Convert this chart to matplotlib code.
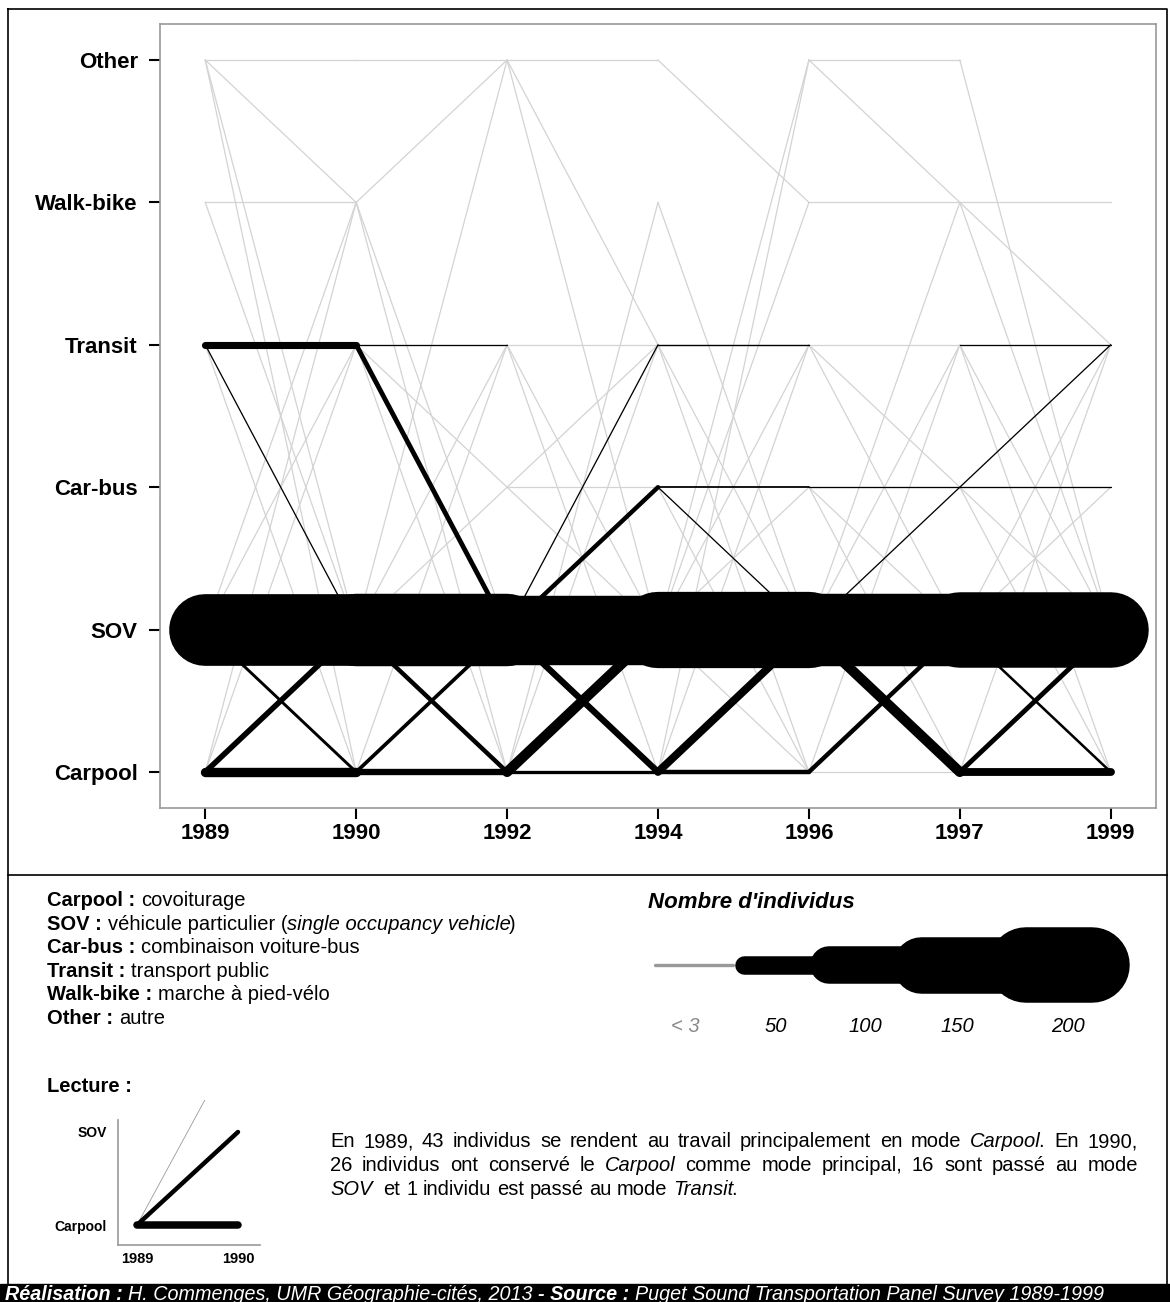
import numpy as np
import matplotlib.pyplot as plt
from matplotlib.patches import Rectangle

plt.rcParams['font.family'] = ['Liberation Sans', 'DejaVu Sans']

# ----------------
#  DATA
# ----------------

years = ["1989", "1990", "1992", "1994", "1996", "1997", "1999"]
modes = ["Carpool", "SOV", "Car-bus", "Transit", "Walk-bike", "Other"]

# (mode origine, mode destination, nombre d'individus)
flows_1989_1990 = [
    ("Other", "Other", 1), ("Other", "Walk-bike", 1), ("Other", "SOV", 1), ("Other", "Carpool", 1),
    ("Walk-bike", "Walk-bike", 1), ("Walk-bike", "SOV", 1), ("SOV", "Walk-bike", 1),
    ("SOV", "Transit", 2), ("Carpool", "Transit", 1), ("Carpool", "Walk-bike", 1),
    ("Transit", "Carpool", 1),
    ("Transit", "Transit", 20), ("Transit", "SOV", 4), ("SOV", "SOV", 190),
    ("SOV", "Carpool", 9), ("Carpool", "SOV", 16), ("Carpool", "Carpool", 26),
]
flows_1990_1992 = [
    ("Other", "Other", 1), ("Walk-bike", "Other", 1), ("SOV", "Other", 1),
    ("Walk-bike", "SOV", 1), ("Walk-bike", "Carpool", 1), ("Transit", "Car-bus", 1),
    ("SOV", "Transit", 2), ("Carpool", "Transit", 1), ("SOV", "Car-bus", 2),
    ("Transit", "Carpool", 1),
    ("Transit", "Transit", 4), ("Transit", "SOV", 14), ("SOV", "SOV", 192),
    ("SOV", "Carpool", 13), ("Carpool", "SOV", 11), ("Carpool", "Carpool", 18),
]
flows_1992_1994 = [
    ("Other", "Other", 1), ("Other", "Transit", 1), ("Other", "SOV", 1),
    ("Carpool", "Walk-bike", 1), ("Transit", "Transit", 1), ("Transit", "SOV", 1),
    ("Transit", "Carpool", 1), ("Car-bus", "Car-bus", 1), ("Car-bus", "Transit", 1),
    ("Car-bus", "SOV", 1), ("Carpool", "Transit", 1),
    ("SOV", "Car-bus", 13), ("SOV", "Transit", 3), ("SOV", "SOV", 184),
    ("SOV", "Carpool", 18), ("Carpool", "SOV", 28), ("Carpool", "Carpool", 10),
]
flows_1994_1996 = [
    ("Other", "Walk-bike", 1), ("Walk-bike", "SOV", 1), ("SOV", "Other", 1),
    ("Carpool", "Other", 1), ("SOV", "Walk-bike", 1), ("Transit", "SOV", 1),
    ("Transit", "Carpool", 1), ("Car-bus", "Carpool", 1), ("SOV", "Transit", 2),
    ("SOV", "Car-bus", 2), ("Carpool", "Transit", 1), ("SOV", "Carpool", 2),
    ("Transit", "Transit", 5), ("Car-bus", "Car-bus", 6), ("Car-bus", "SOV", 3),
    ("SOV", "SOV", 202), ("Carpool", "SOV", 22), ("Carpool", "Carpool", 13),
]
flows_1996_1997 = [
    ("Other", "Other", 1), ("Other", "Walk-bike", 1), ("Walk-bike", "Walk-bike", 1),
    ("SOV", "Walk-bike", 1), ("Transit", "Transit", 1), ("Transit", "Car-bus", 1),
    ("Transit", "SOV", 1), ("Car-bus", "SOV", 2), ("Car-bus", "Carpool", 1),
    ("SOV", "Transit", 2), ("Carpool", "Transit", 1), ("Carpool", "Carpool", 2),
    ("Car-bus", "Car-bus", 4), ("SOV", "Car-bus", 3), ("SOV", "SOV", 192),
    ("SOV", "Carpool", 28), ("Carpool", "SOV", 13),
]
flows_1997_1999 = [
    ("Other", "SOV", 1), ("Walk-bike", "Walk-bike", 1), ("Walk-bike", "Transit", 1),
    ("Walk-bike", "SOV", 1), ("Transit", "SOV", 1), ("Transit", "Carpool", 1),
    ("Car-bus", "SOV", 2), ("Car-bus", "Carpool", 1), ("SOV", "Transit", 2),
    ("SOV", "Car-bus", 2), ("Carpool", "Transit", 1),
    ("Transit", "Transit", 3), ("Car-bus", "Transit", 3), ("Car-bus", "Car-bus", 3),
    ("SOV", "SOV", 200), ("SOV", "Carpool", 8), ("Carpool", "SOV", 14),
    ("Carpool", "Carpool", 22),
]
periods = [flows_1989_1990, flows_1990_1992, flows_1992_1994,
           flows_1994_1996, flows_1996_1997, flows_1997_1999]

legend_values = [50, 100, 150, 200]
legend_labels = ["< 3", "50", "100", "150", "200"]

lecture_years = ["1989", "1990"]
lecture_modes = ["Carpool", "SOV", "Transit"]
lecture_flows = [("Carpool", "Transit", 1), ("Carpool", "SOV", 16), ("Carpool", "Carpool", 26)]

glossary = [
    [("Carpool :", "bold", "normal"), (" covoiturage", "normal", "normal")],
    [("SOV :", "bold", "normal"), (" véhicule particulier (", "normal", "normal"),
     ("single occupancy vehicle", "normal", "italic"), (")", "normal", "normal")],
    [("Car-bus :", "bold", "normal"), (" combinaison voiture-bus", "normal", "normal")],
    [("Transit :", "bold", "normal"), (" transport public", "normal", "normal")],
    [("Walk-bike :", "bold", "normal"), (" marche à pied-vélo", "normal", "normal")],
    [("Other :", "bold", "normal"), (" autre", "normal", "normal")],
]

lecture_text = [
    "En 1989, 43 individus se rendent au travail principalement en mode *Carpool*. En 1990,",
    "26 individus ont conservé le *Carpool* comme mode principal, 16 sont passé au mode",
    "*SOV*  et 1 individu est passé au mode *Transit*.",
]

footer = [("Réalisation :", "bold", "italic"),
          (" H. Commenges, UMR Géographie-cités, 2013 ", "normal", "italic"),
          ("- Source :", "bold", "italic"),
          (" Puget Sound Transportation Panel Survey 1989-1999", "normal", "italic")]


def width_pt(n):
    # largeur du trait proportionnelle au nombre d'individus (px -> pt)
    return max(0.38 * n - 0.5, 1.3) * 0.72


GREY = "#d3d3d3"

# ----------------
#  FIGURE
# ----------------

W, H = 1170, 1302
fig = plt.figure(figsize=(W / 100, H / 100), dpi=100)
ov = fig.add_axes([0, 0, 1, 1], zorder=0)
ov.set_xlim(0, W)
ov.set_ylim(H, 0)
ov.axis("off")
rend = fig.canvas.get_renderer()

# cadre general
ov.plot([8, 1167, 1167, 8, 8], [9, 9, 1290, 1290, 9], color="black", lw=1.2)
ov.plot([8, 1167], [875, 875], color="black", lw=1.2)
ov.add_patch(Rectangle((0, 1284), W, 20, color="black"))

# graphique principal
ax = fig.add_axes([160 / W, 1 - 808 / H, 996 / W, 784 / H], zorder=1)
ymode = {m: i for i, m in enumerate(modes)}

for i, fl in enumerate(periods):
    for a, b, n in fl:
        if n < 3:
            ax.plot([i, i + 1], [ymode[a], ymode[b]], color=GREY, lw=0.9, zorder=1)
for i, fl in enumerate(periods):
    for a, b, n in sorted(fl, key=lambda f: f[2]):
        if n >= 3:
            ax.plot([i, i + 1], [ymode[a], ymode[b]], color="black", lw=width_pt(n),
                    solid_capstyle="round", zorder=2 + n / 1000)

ax.set_xlim(-0.3, 6.3)
ax.set_ylim(-0.253, 5.253)
ax.set_xticks(range(len(years)))
ax.set_xticklabels(years, fontsize=16, fontweight="bold")
ax.set_yticks(range(len(modes)))
ax.set_yticklabels(modes, fontsize=16, fontweight="bold")
ax.tick_params(axis="both", direction="out", length=8, width=1.5, color="black")
ax.tick_params(axis="y", pad=8)
ax.tick_params(axis="x", pad=3)
for s in ax.spines.values():
    s.set_color("#999999")
    s.set_linewidth(1.2)


# ----------------
#  TEXTES
# ----------------

def measure(s, size, weight="normal", style="normal"):
    t = ov.text(0, 0, s, fontsize=size, fontweight=weight, fontstyle=style)
    w = t.get_window_extent(renderer=rend).width
    t.remove()
    return w


def space(size, weight="normal", style="normal"):
    return measure("x x", size, weight, style) - measure("xx", size, weight, style)


def rich(x, y, parts, size, color="black"):
    for k, (s, weight, style) in enumerate(parts):
        sp = space(size, weight, style)
        core = s.strip(" ")
        x += (len(s) - len(s.lstrip(" "))) * sp
        if core:
            ov.text(x, y, core, fontsize=size, fontweight=weight, fontstyle=style,
                    color=color, ha="left", va="baseline")
            x += measure(core, size, weight, style)
            # l'italique deborde a droite : on rapproche le morceau suivant
            if style == "italic" and k + 1 < len(parts) and parts[k + 1][2] != "italic":
                x -= 2
        x += (len(s) - len(s.rstrip(" "))) * sp
    return x


def word_parts(word):
    bits = word.split("*")
    return [(b, "normal", "italic" if k % 2 else "normal") for k, b in enumerate(bits) if b]


def para_line(x0, x1, y, line, size, justify):
    words = [word_parts(w) for w in line.split(" ")]
    widths = [sum(measure(p[0], size, p[1], p[2]) for p in w) for w in words]
    if justify:
        gap = (x1 - x0 - sum(widths)) / (len(words) - 1)
    else:
        gap = space(size)
    x = x0
    for w, wd in zip(words, widths):
        rich(x, y, w, size)
        x += wd + gap


for k, parts in enumerate(glossary):
    rich(47, 906 + k * 23.6, parts, 14.5)

ov.text(47, 1086, "Lecture :", fontsize=14.5, fontweight="bold", va="center", ha="left")

for k, line in enumerate(lecture_text):
    para_line(330, 1138, 1147 + k * 24, line, 14.5, justify=(k < len(lecture_text) - 1))

rich(5, 1300, footer, 14.2, color="white")

# legende
ov.text(648, 902, "Nombre d'individus", fontsize=16, fontweight="bold", fontstyle="italic",
        va="center", ha="left")
ov.plot([655, 733], [965, 965], color="#999999", lw=2.4, solid_capstyle="round")
seg_start = [744, 829, 921, 1026]
seg_end = [815, 910, 1010, 1092]
for v, x0, x1 in zip(legend_values, seg_start, seg_end):
    ov.plot([x0, x1], [965, 965], color="black", lw=width_pt(v), solid_capstyle="round")
label_x = [685, 776, 865, 957, 1068]
for lab, x in zip(legend_labels, label_x):
    ov.text(x, 1026, lab, fontsize=14.5, fontstyle="italic", ha="center", va="center",
            color="#888888" if lab.startswith("<") else "black")

# mini graphique de lecture
mini = fig.add_axes([118 / W, 1 - 1245 / H, 142 / W, 145 / H], zorder=1)
mini.patch.set_alpha(0)
lmode = {m: i for i, m in enumerate(lecture_modes)}
for a, b, n in lecture_flows:
    if n < 3:
        mini.plot([0, 1], [lmode[a], lmode[b]], color="#999999", lw=0.6)
    else:
        mini.plot([0, 1], [lmode[a], lmode[b]], color="black", lw=width_pt(n) * 0.8,
                  solid_capstyle="round")
mini.set_xlim(-0.188, 1.218)
mini.set_ylim(-0.215, 1.344)
for side in ["top", "right"]:
    mini.spines[side].set_visible(False)
for side in ["left", "bottom"]:
    mini.spines[side].set_color("#999999")
    mini.spines[side].set_linewidth(1.2)
mini.spines["left"].set_bounds(-0.215, 1.13)
mini.set_xticks(range(len(lecture_years)))
mini.set_xticklabels(lecture_years, fontsize=10.5, fontweight="bold")
mini.set_yticks([0, 1])
mini.set_yticklabels(lecture_modes[:2], fontsize=10, fontweight="bold")
mini.tick_params(length=0)
mini.tick_params(axis="y", pad=8)
mini.tick_params(axis="x", pad=5)

fig.savefig("out.png", dpi=100)
